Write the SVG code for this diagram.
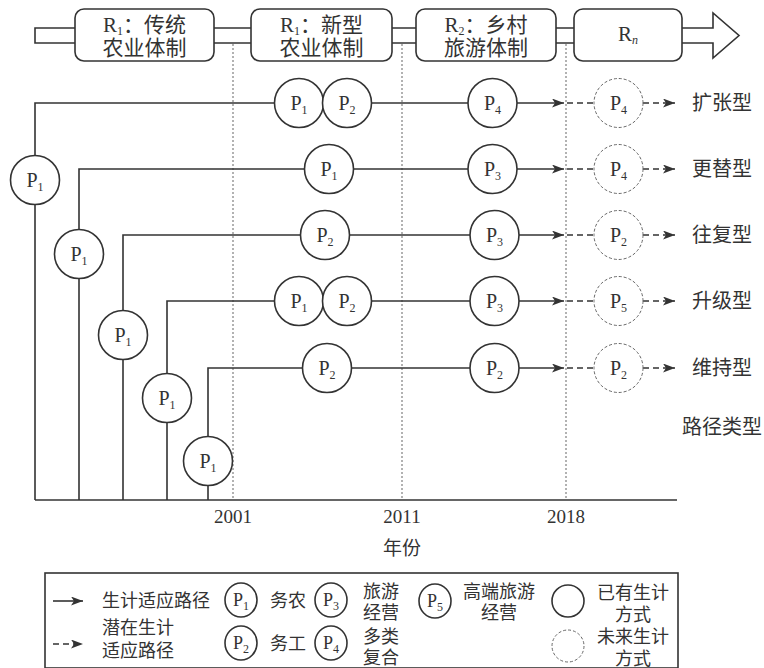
<svg xmlns="http://www.w3.org/2000/svg" width="764" height="668" viewBox="0 0 764 668">
<defs>
<style>
.ln{stroke:#333;stroke-width:1.6;fill:none}
.dl{stroke:#333;stroke-width:1.6;fill:none;stroke-dasharray:6,4}
.vd{stroke:#999;stroke-width:1.5;stroke-dasharray:2,2;fill:none}
.c{fill:#fff;stroke:#333;stroke-width:1.6}
.cd{fill:#fff;stroke:#666;stroke-width:1;stroke-dasharray:3,2}
.bx{fill:#fff;stroke:#333;stroke-width:1.6}
.t{font-family:"Liberation Serif","Noto Sans CJK SC",serif;fill:#333}
.p{font-size:20px;text-anchor:middle}
.lp{font-size:18px;text-anchor:middle}
.s{font-size:12px}
.lg{font-size:18px}
.rt{font-size:20px}
.bt{font-size:21px;text-anchor:middle}
.yr{font-size:19px;text-anchor:middle}
</style>
<marker id="ah" markerUnits="userSpaceOnUse" markerWidth="14" markerHeight="10" refX="12" refY="4.5" orient="auto">
<path d="M0,0 L12,4.5 L0,9 L3,4.5 Z" fill="#333"/>
</marker>
</defs>
<rect width="764" height="668" fill="#fff"/>

<g id="timeline-band">
<polygon class="bx" points="35,28 713,28 713,13 739,35.5 713,58 713,43 35,43"/>
</g>
<g id="guides">
<line class="vd" x1="233" y1="44" x2="233" y2="500"/>
<line class="vd" x1="402" y1="44" x2="402" y2="500"/>
<line class="vd" x1="566" y1="44" x2="566" y2="500"/>
</g>
<g id="regime1">
<rect class="bx" x="75" y="9" width="139" height="52" rx="9"/>
<text class="t bt" x="144.5" y="32">R<tspan class="s" dy="3">1</tspan><tspan dy="-3">：传统</tspan></text>
<text class="t bt" x="144.5" y="55">农业体制</text>
</g>
<g id="regime1b">
<rect class="bx" x="251" y="9" width="141" height="52" rx="9"/>
<text class="t bt" x="321.5" y="32">R<tspan class="s" dy="3">1</tspan><tspan dy="-3">：新型</tspan></text>
<text class="t bt" x="321.5" y="55">农业体制</text>
</g>
<g id="regime2">
<rect class="bx" x="416" y="9" width="140" height="52" rx="9"/>
<text class="t bt" x="486" y="32">R<tspan class="s" dy="3">2</tspan><tspan dy="-3">：乡村</tspan></text>
<text class="t bt" x="486" y="55">旅游体制</text>
</g>
<g id="regimeN">
<rect class="bx" x="574" y="9" width="108" height="52" rx="9"/>
<text class="t bt" x="628" y="41">R<tspan class="s" dy="3" font-style="italic">n</tspan></text>
</g>

<g id="axis">
<line class="ln" x1="35" y1="500" x2="677" y2="500"/>
<text class="t yr" x="233" y="523">2001</text>
<text class="t yr" x="402" y="523">2011</text>
<text class="t yr" x="566" y="523">2018</text>
<text class="t yr" x="402" y="555">年份</text>
</g>

<g id="connectors">
<polyline class="ln" points="35,500 35,103 275,103"/>
<polyline class="ln" points="79,500 79,169 305,169"/>
<polyline class="ln" points="123,500 123,235 300,235"/>
<polyline class="ln" points="167,500 167,301 275,301"/>
<polyline class="ln" points="208,500 208,368 303,368"/>
<line class="ln" x1="371" y1="103" x2="468" y2="103"/>
<line class="ln" x1="353" y1="169" x2="468" y2="169"/>
<line class="ln" x1="349" y1="235" x2="470" y2="235"/>
<line class="ln" x1="371" y1="301" x2="470" y2="301"/>
<line class="ln" x1="351" y1="368" x2="470" y2="368"/>
<line class="ln" x1="517" y1="103" x2="564" y2="103" marker-end="url(#ah)"/>
<line class="ln" x1="517" y1="169" x2="564" y2="169" marker-end="url(#ah)"/>
<line class="ln" x1="519" y1="235" x2="564" y2="235" marker-end="url(#ah)"/>
<line class="ln" x1="519" y1="301" x2="564" y2="301" marker-end="url(#ah)"/>
<line class="ln" x1="519" y1="368" x2="564" y2="368" marker-end="url(#ah)"/>
<line class="dl" x1="567" y1="103" x2="594" y2="103"/>
<line class="dl" x1="567" y1="169" x2="594" y2="169"/>
<line class="dl" x1="567" y1="235" x2="594" y2="235"/>
<line class="dl" x1="567" y1="301" x2="594" y2="301"/>
<line class="dl" x1="567" y1="368" x2="594" y2="368"/>
<line class="dl" x1="643" y1="103" x2="675" y2="103" marker-end="url(#ah)"/>
<line class="dl" x1="643" y1="169" x2="675" y2="169" marker-end="url(#ah)"/>
<line class="dl" x1="643" y1="235" x2="675" y2="235" marker-end="url(#ah)"/>
<line class="dl" x1="643" y1="301" x2="675" y2="301" marker-end="url(#ah)"/>
<line class="dl" x1="643" y1="368" x2="675" y2="368" marker-end="url(#ah)"/>
</g>

<g id="start1"><circle class="c" cx="35" cy="180" r="24.5"/><text class="t p" x="35" y="187">P<tspan class="s" dy="4">1</tspan></text></g>
<g id="start2"><circle class="c" cx="79" cy="254" r="24.5"/><text class="t p" x="79" y="261">P<tspan class="s" dy="4">1</tspan></text></g>
<g id="start3"><circle class="c" cx="123" cy="335" r="24.5"/><text class="t p" x="123" y="342">P<tspan class="s" dy="4">1</tspan></text></g>
<g id="start4"><circle class="c" cx="167" cy="398" r="24.5"/><text class="t p" x="167" y="405">P<tspan class="s" dy="4">1</tspan></text></g>
<g id="start5"><circle class="c" cx="208" cy="461" r="24.5"/><text class="t p" x="208" y="468">P<tspan class="s" dy="4">1</tspan></text></g>

<g id="r1a"><circle class="c" cx="299" cy="103" r="24.5"/><text class="t p" x="299" y="110">P<tspan class="s" dy="4">1</tspan></text></g>
<g id="r1b"><circle class="c" cx="347" cy="103" r="24.5"/><text class="t p" x="347" y="110">P<tspan class="s" dy="4">2</tspan></text></g>
<g id="r1c"><circle class="c" cx="492.5" cy="103" r="24.5"/><text class="t p" x="492.5" y="110">P<tspan class="s" dy="4">4</tspan></text></g>
<g id="r1d"><circle class="cd" cx="618.5" cy="103" r="24.5"/><text class="t p" x="618.5" y="110">P<tspan class="s" dy="4">4</tspan></text></g>

<g id="r2a"><circle class="c" cx="329" cy="169" r="24.5"/><text class="t p" x="329" y="176">P<tspan class="s" dy="4">1</tspan></text></g>
<g id="r2b"><circle class="c" cx="492.5" cy="169" r="24.5"/><text class="t p" x="492.5" y="176">P<tspan class="s" dy="4">3</tspan></text></g>
<g id="r2c"><circle class="cd" cx="618.5" cy="169" r="24.5"/><text class="t p" x="618.5" y="176">P<tspan class="s" dy="4">4</tspan></text></g>

<g id="r3a"><circle class="c" cx="325" cy="235" r="24.5"/><text class="t p" x="325" y="242">P<tspan class="s" dy="4">2</tspan></text></g>
<g id="r3b"><circle class="c" cx="494.5" cy="235" r="24.5"/><text class="t p" x="494.5" y="242">P<tspan class="s" dy="4">3</tspan></text></g>
<g id="r3c"><circle class="cd" cx="618.5" cy="235" r="24.5"/><text class="t p" x="618.5" y="242">P<tspan class="s" dy="4">2</tspan></text></g>

<g id="r4a"><circle class="c" cx="299" cy="301" r="24.5"/><text class="t p" x="299" y="308">P<tspan class="s" dy="4">1</tspan></text></g>
<g id="r4b"><circle class="c" cx="347" cy="301" r="24.5"/><text class="t p" x="347" y="308">P<tspan class="s" dy="4">2</tspan></text></g>
<g id="r4c"><circle class="c" cx="494.5" cy="301" r="24.5"/><text class="t p" x="494.5" y="308">P<tspan class="s" dy="4">3</tspan></text></g>
<g id="r4d"><circle class="cd" cx="618.5" cy="301" r="24.5"/><text class="t p" x="618.5" y="308">P<tspan class="s" dy="4">5</tspan></text></g>

<g id="r5a"><circle class="c" cx="327" cy="368" r="24.5"/><text class="t p" x="327" y="375">P<tspan class="s" dy="4">2</tspan></text></g>
<g id="r5b"><circle class="c" cx="494.5" cy="368" r="24.5"/><text class="t p" x="494.5" y="375">P<tspan class="s" dy="4">2</tspan></text></g>
<g id="r5c"><circle class="cd" cx="618.5" cy="368" r="24.5"/><text class="t p" x="618.5" y="375">P<tspan class="s" dy="4">2</tspan></text></g>

<g id="row-labels">
<text class="t rt" x="692" y="110">扩张型</text>
<text class="t rt" x="692" y="176">更替型</text>
<text class="t rt" x="692" y="242">往复型</text>
<text class="t rt" x="692" y="308">升级型</text>
<text class="t rt" x="692" y="375">维持型</text>
<text class="t rt" x="682" y="434">路径类型</text>
</g>

<g id="legend">
<rect x="45" y="573" width="633" height="95" fill="#fff" stroke="#333" stroke-width="1.6"/>
<line class="ln" x1="53" y1="601" x2="83" y2="601" marker-end="url(#ah)"/>
<line class="dl" x1="53" y1="644" x2="83" y2="644" marker-end="url(#ah)"/>
<text class="t lg" x="102" y="607">生计适应路径</text>
<text class="t lg" x="102" y="634">潜在生计</text>
<text class="t lg" x="102" y="657">适应路径</text>
<ellipse class="c" cx="241" cy="600" rx="16" ry="17"/><text class="t lp" x="241" y="606">P<tspan class="s" dy="4">1</tspan></text>
<ellipse class="c" cx="241" cy="643" rx="16" ry="17"/><text class="t lp" x="241" y="649">P<tspan class="s" dy="4">2</tspan></text>
<ellipse class="c" cx="331" cy="600" rx="16" ry="17"/><text class="t lp" x="331" y="606">P<tspan class="s" dy="4">3</tspan></text>
<ellipse class="c" cx="331" cy="643" rx="16" ry="17"/><text class="t lp" x="331" y="649">P<tspan class="s" dy="4">4</tspan></text>
<ellipse class="c" cx="435" cy="601" rx="16" ry="17"/><text class="t lp" x="435" y="607">P<tspan class="s" dy="4">5</tspan></text>
<text class="t lg" x="270" y="607">务农</text>
<text class="t lg" x="270" y="650">务工</text>
<text class="t lg" x="363" y="598">旅游</text>
<text class="t lg" x="363" y="619">经营</text>
<text class="t lg" x="363" y="643">多类</text>
<text class="t lg" x="363" y="664">复合</text>
<text class="t lg" x="463" y="598">高端旅游</text>
<text class="t lg" x="499" y="619" text-anchor="middle">经营</text>
<circle class="c" cx="568" cy="601" r="16"/>
<circle class="cd" cx="568" cy="646" r="16"/>
<text class="t lg" x="597" y="599">已有生计</text>
<text class="t lg" x="633" y="621" text-anchor="middle">方式</text>
<text class="t lg" x="597" y="643">未来生计</text>
<text class="t lg" x="633" y="665" text-anchor="middle">方式</text>
</g>
</svg>
